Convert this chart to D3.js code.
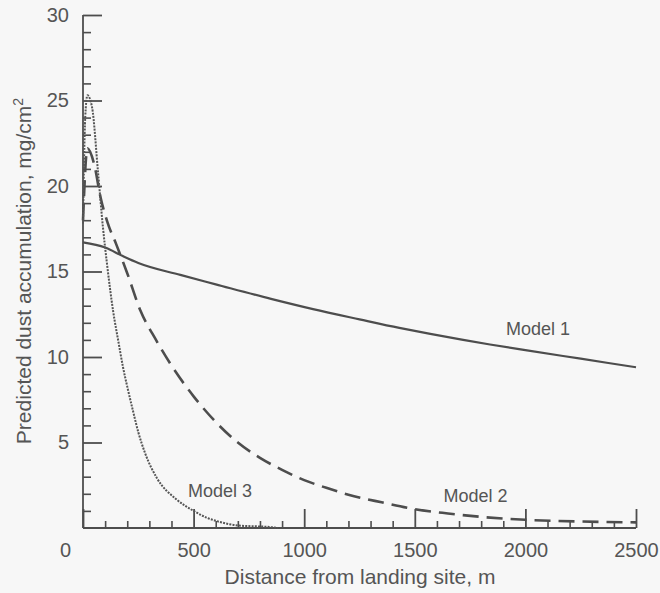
<!DOCTYPE html>
<html>
<head>
<meta charset="utf-8">
<script src="https://cdn.jsdelivr.net/npm/d3@7"></script>
<style>
  html, body { margin: 0; padding: 0; background: #f7f7f7; }
  svg { display: block; font-family: "Liberation Sans", Arial, Helvetica, sans-serif; }
</style>
</head>
<body>
<svg id="chart" width="660" height="593"></svg>
<script>
// ---- data ----
const model1Dist = [0, 100, 180, 250, 440, 600, 850, 1040, 1250, 1430, 1570, 1840, 2000, 2250, 2500];
const model1Vals = [16.7, 16.4, 15.9, 15.5, 14.8, 14.25, 13.4, 12.8, 12.2, 11.7, 11.35, 10.73, 10.4, 9.9, 9.4];

const model2Dist = [0, 20, 50, 80, 110, 150, 200, 260, 330, 400, 500, 600, 700, 800, 900, 1000, 1100, 1200, 1350, 1500, 1650, 1800, 2000, 2250, 2500];
const model2Vals = [18, 22.2, 21.3, 19.3, 17.9, 16.6, 14.9, 12.7, 11.0, 9.5, 7.7, 6.2, 5.0, 4.1, 3.4, 2.8, 2.35, 1.95, 1.5, 1.1, 0.85, 0.65, 0.48, 0.38, 0.33];

const model3Dist = [0, 10, 20, 41, 68, 90, 108, 136, 160, 181, 203, 225, 250, 280, 335, 420, 500, 560, 620, 700, 850, 880];
const model3Vals = [17.8, 24, 25.3, 24.6, 20.8, 17.6, 15.5, 12.7, 10.9, 9.4, 8.1, 6.9, 5.6, 4.4, 2.9, 1.7, 1.0, 0.6, 0.35, 0.15, 0.05, 0.0];

const xMajorTicks = [0, 500, 1000, 1500, 2000, 2500];
const xMinorTicks = d3.range(100, 2500, 100).filter(v => v % 500 !== 0);
const yMajorTicks = [5, 10, 15, 20, 25, 30];
const yMinorTicks = d3.range(1, 30, 1).filter(v => v % 5 !== 0);

const modelLabels = [
  { name: "Model 1", dist: 1912, val: 11.3 },
  { name: "Model 2", dist: 1630, val: 1.5 },
  { name: "Model 3", dist: 475, val: 1.8 }
];

const xTitle = "Distance from landing site, m";
const yTitleMain = "Predicted dust accumulation, mg/cm";
const yTitleSup = "2";

// ---- layout ----
const svg = d3.select("#chart");
const ink = "#4d4d4d";
const textInk = "#555";

const x = d3.scaleLinear().domain([0, 2500]).range([83, 636]);
const y = d3.scaleLinear().domain([0, 30]).range([528, 15]);

// y axis: minor ticks
svg.append("g")
  .attr("transform", `translate(${x(0)},0)`)
  .call(d3.axisLeft(y).tickValues(yMinorTicks).tickSizeInner(-8).tickSizeOuter(0).tickFormat(""))
  .call(g => g.select(".domain").remove())
  .call(g => g.selectAll("line").attr("stroke", ink).attr("stroke-width", 1.6));

// y axis: major ticks + labels
svg.append("g")
  .attr("transform", `translate(${x(0)},0)`)
  .call(d3.axisLeft(y).tickValues(yMajorTicks).tickSizeInner(-19).tickSizeOuter(0).tickPadding(14))
  .call(g => g.select(".domain").attr("stroke", ink).attr("stroke-width", 1.8).attr("d", `M0,${y(0)}V${y(30)}`))
  .call(g => g.selectAll("line").attr("stroke", ink).attr("stroke-width", 1.8))
  .call(g => g.selectAll("text").attr("fill", textInk).attr("font-size", 20)
    .attr("font-family", "Liberation Sans, Arial, sans-serif"));

// x axis: minor ticks
svg.append("g")
  .attr("transform", `translate(0,${y(0)})`)
  .call(d3.axisBottom(x).tickValues(xMinorTicks).tickSizeInner(-7).tickSizeOuter(0).tickFormat(""))
  .call(g => g.select(".domain").remove())
  .call(g => g.selectAll("line").attr("stroke", ink).attr("stroke-width", 1.6));

// x axis: major ticks + labels
svg.append("g")
  .attr("transform", `translate(0,${y(0)})`)
  .call(d3.axisBottom(x).tickValues(xMajorTicks).tickSizeInner(-19).tickSizeOuter(0).tickPadding(15).tickFormat(d3.format("d")))
  .call(g => g.select(".domain").attr("stroke", ink).attr("stroke-width", 1.8).attr("d", `M${x(0)},0H${x(2500)}`))
  .call(g => g.selectAll("line").attr("stroke", ink).attr("stroke-width", 1.8))
  .call(g => g.selectAll("text").attr("fill", textInk).attr("font-size", 20)
    .attr("font-family", "Liberation Sans, Arial, sans-serif"))
  .call(g => g.selectAll(".tick").filter(d => d === 0).select("text").attr("dx", -18));

// ---- curves ----
const line = d3.line().x(d => x(d[0])).y(d => y(d[1])).curve(d3.curveMonotoneX);

const m1 = model1Dist.map((d, i) => [d, model1Vals[i]]);
const m2 = model2Dist.map((d, i) => [d, model2Vals[i]]);
const m3 = model3Dist.map((d, i) => [d, model3Vals[i]]);

svg.append("path").datum(m1).attr("d", line)
  .attr("fill", "none").attr("stroke", ink).attr("stroke-width", 2.2);

svg.append("path").datum(m2).attr("d", line)
  .attr("fill", "none").attr("stroke", ink).attr("stroke-width", 2.6)
  .attr("stroke-dasharray", "16,8");

svg.append("path").datum(m3).attr("d", line)
  .attr("fill", "none").attr("stroke", "#555").attr("stroke-width", 2)
  .attr("stroke-dasharray", "2,1.2");

// ---- model labels ----
svg.append("g").selectAll("text").data(modelLabels).join("text")
  .attr("x", d => x(d.dist)).attr("y", d => y(d.val))
  .attr("text-anchor", "start")
  .attr("font-size", 18).attr("fill", textInk)
  .text(d => d.name);

// ---- axis titles ----
svg.append("text")
  .attr("x", 360).attr("y", 584)
  .attr("text-anchor", "middle").attr("font-size", 21).attr("fill", textInk)
  .text(xTitle);

const yt = svg.append("text")
  .attr("transform", "translate(31,271) rotate(-90)")
  .attr("text-anchor", "middle").attr("font-size", 21).attr("fill", textInk);
yt.append("tspan").text(yTitleMain);
yt.append("tspan").attr("font-size", 14).attr("dy", -8).text(yTitleSup);
</script>
</body>
</html>
